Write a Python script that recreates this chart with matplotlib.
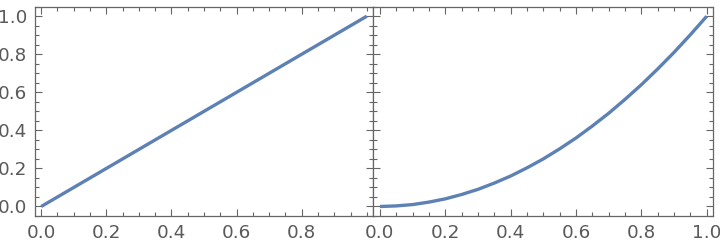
import matplotlib
matplotlib.use('Agg')
import matplotlib.pyplot as plt
from matplotlib.ticker import MultipleLocator

# valori
lin_x = [0.0, 1.0]
lin_y = [0.0, 1.0]

sq_x = [0.0, 0.05, 0.1, 0.15, 0.2, 0.25, 0.3, 0.35, 0.4, 0.45, 0.5,
        0.55, 0.6, 0.65, 0.7, 0.75, 0.8, 0.85, 0.9, 0.95, 1.0]
sq_y = [0.0, 0.003, 0.01, 0.023, 0.04, 0.063, 0.09, 0.123, 0.16, 0.203, 0.25,
        0.303, 0.36, 0.423, 0.49, 0.563, 0.64, 0.723, 0.81, 0.903, 1.0]

left_xticks = [0.0, 0.2, 0.4, 0.6, 0.8]
right_xticks = [0.0, 0.2, 0.4, 0.6, 0.8, 1.0]
yticks = [0.0, 0.2, 0.4, 0.6, 0.8, 1.0]

line_color = '#5E81B5'
frame_color = '#666666'
text_color = '#5a5a5a'

W, H = 720, 246
fig = plt.figure(figsize=(W / 100, H / 100), dpi=100)

bottom = (H - 216) / H
height = (216 - 6.7) / H
ax1 = fig.add_axes([34.7 / W, bottom, (373.3 - 34.7) / W, height])
ax2 = fig.add_axes([373.3 / W, bottom, (713.3 - 373.3) / W, height])

ax1.plot(lin_x, lin_y, color=line_color, linewidth=2.4, solid_capstyle='butt')
ax2.plot(sq_x, sq_y, color=line_color, linewidth=2.4, solid_capstyle='butt')

for ax, xt in [(ax1, left_xticks), (ax2, right_xticks)]:
    ax.set_xlim(-0.02, 1.02)
    ax.set_ylim(-0.05, 1.05)
    ax.set_xticks(xt)
    ax.set_xticklabels([f'{v:.1f}' for v in xt])
    ax.set_yticks(yticks)
    ax.xaxis.set_minor_locator(MultipleLocator(0.05))
    ax.yaxis.set_minor_locator(MultipleLocator(0.05))
    ax.tick_params(which='both', direction='in', top=True, right=True,
                   color=frame_color, width=0.8)
    ax.tick_params(which='major', length=5, labelsize=13.2, labelcolor=text_color, pad=5.5)
    ax.tick_params(which='minor', length=3)
    for s in ax.spines.values():
        s.set_color(frame_color)
        s.set_linewidth(0.9)

ax1.set_yticklabels([f'{v:.1f}' for v in yticks])
ax2.set_yticklabels([])

fig.savefig('out.png', dpi=100)
